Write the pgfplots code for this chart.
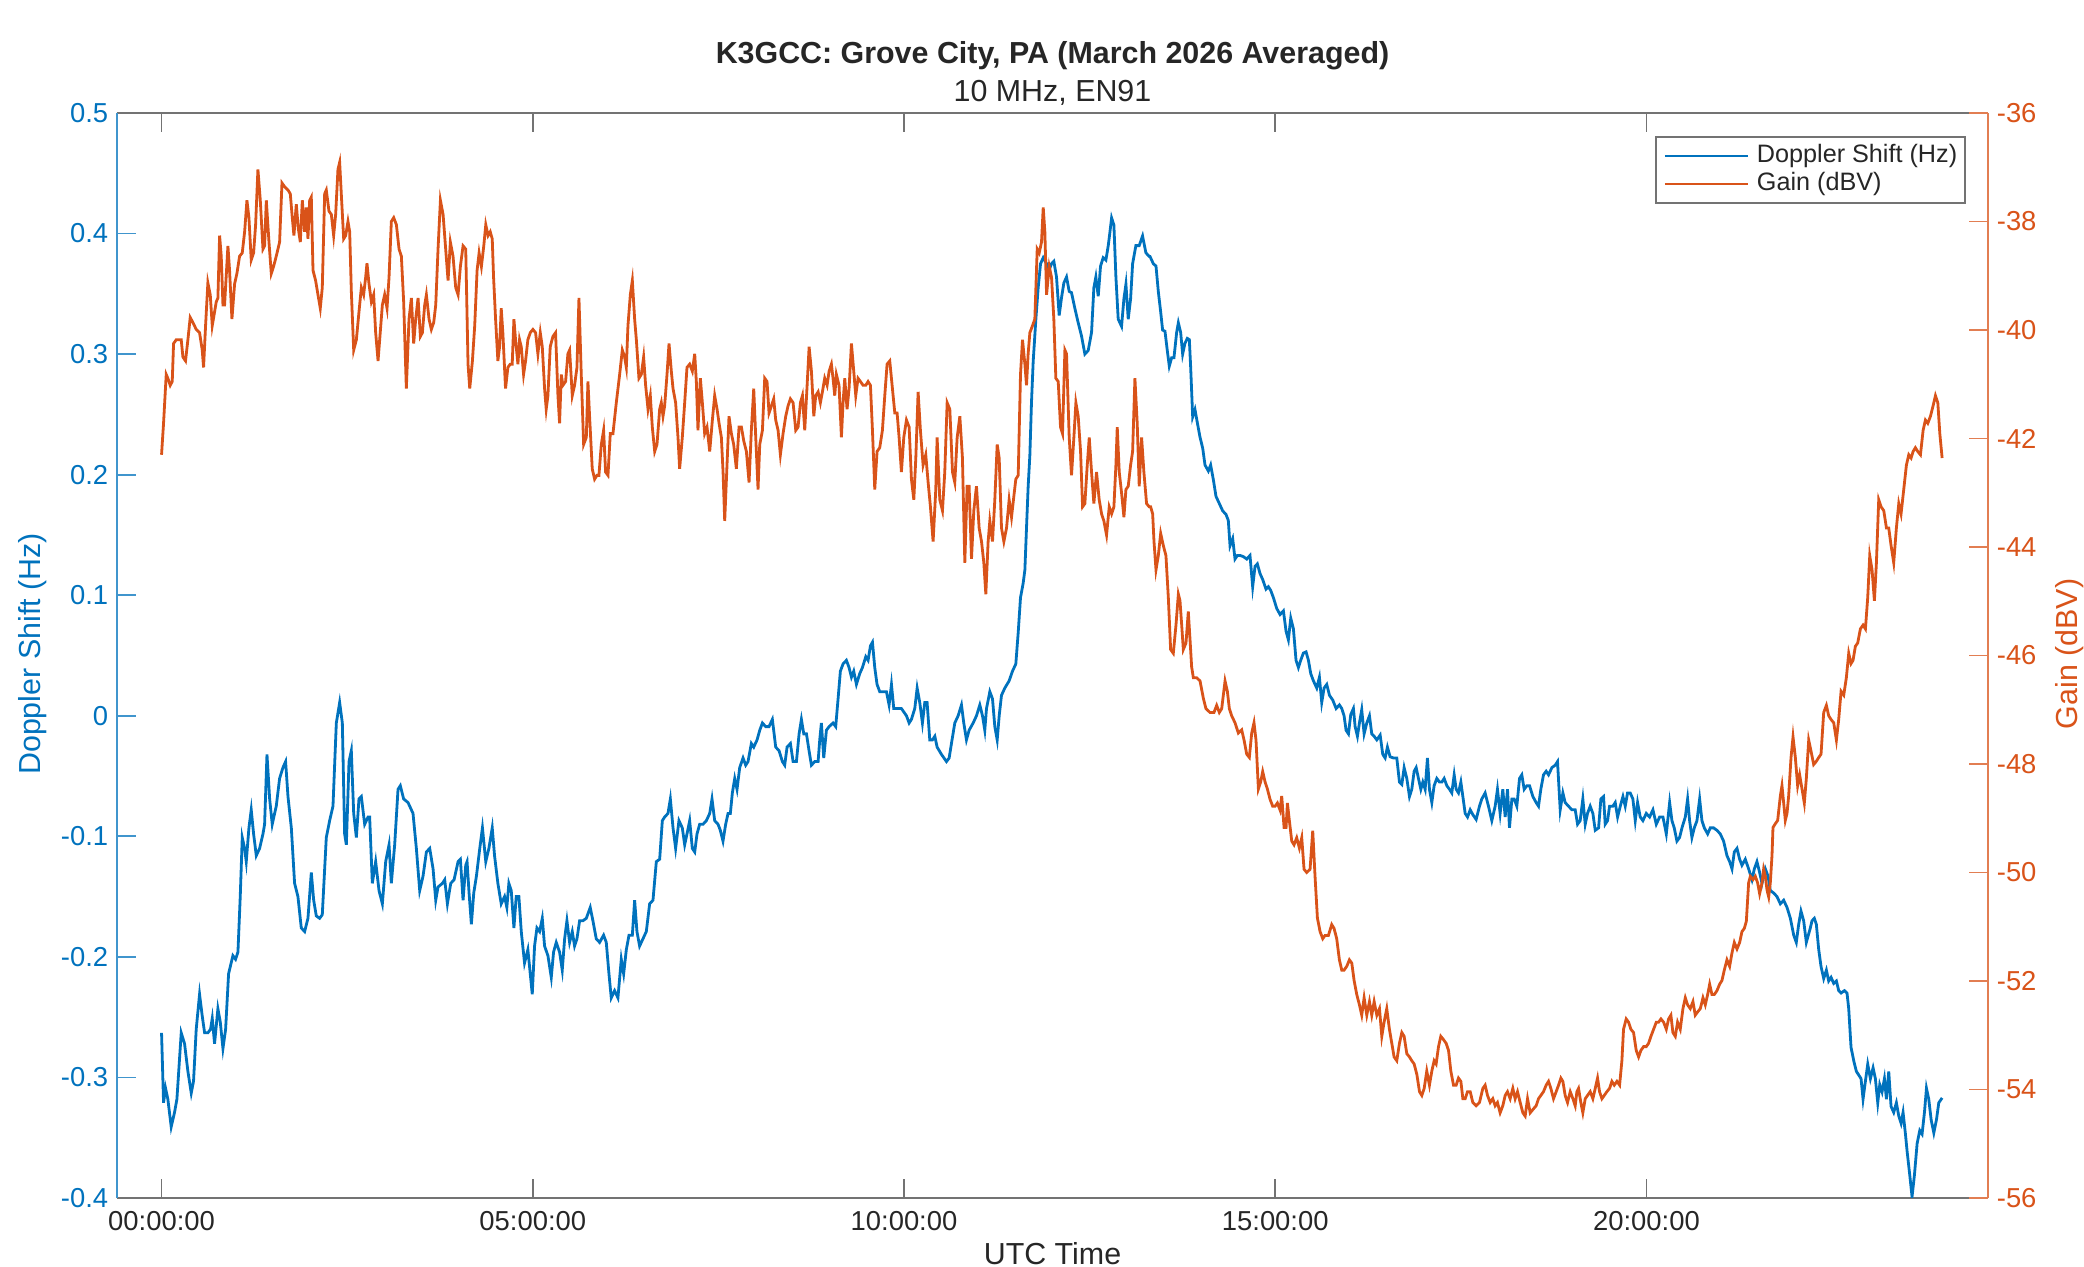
\documentclass[border=0pt]{standalone}
\usepackage{fontspec}
\setmainfont{Liberation Sans}
\usepackage{pgfplots}
\usepackage{pgfplotstable}
\pgfplotsset{compat=1.18}
\definecolor{dopcol}{rgb}{0,0.447,0.741}
\definecolor{gaincol}{rgb}{0.85,0.325,0.098}
\definecolor{axgray}{rgb}{0.45,0.45,0.45}
\definecolor{txtgray}{rgb}{0.15,0.15,0.15}
\newcommand\tickfont{\fontsize{13.7}{16}\selectfont}
\newcommand\labfont{\fontsize{15.2}{18}\selectfont}

\pgfplotstableread{
h d
0.000 -0.263
0.027 -0.321
0.054 -0.309
0.085 -0.318
0.130 -0.341
0.175 -0.329
0.207 -0.318
0.265 -0.263
0.310 -0.272
0.355 -0.295
0.400 -0.313
0.431 -0.303
0.467 -0.260
0.512 -0.231
0.548 -0.249
0.580 -0.263
0.624 -0.263
0.660 -0.260
0.683 -0.251
0.714 -0.272
0.759 -0.243
0.791 -0.254
0.827 -0.276
0.863 -0.260
0.903 -0.214
0.961 -0.199
0.997 -0.202
1.029 -0.196
1.060 -0.150
1.087 -0.101
1.119 -0.110
1.141 -0.121
1.177 -0.093
1.208 -0.078
1.240 -0.098
1.276 -0.116
1.321 -0.110
1.366 -0.098
1.388 -0.090
1.420 -0.032
1.456 -0.069
1.491 -0.090
1.523 -0.081
1.545 -0.075
1.590 -0.052
1.635 -0.043
1.671 -0.038
1.703 -0.067
1.748 -0.093
1.792 -0.139
1.837 -0.150
1.882 -0.176
1.927 -0.179
1.972 -0.168
2.017 -0.130
2.049 -0.153
2.084 -0.166
2.129 -0.168
2.165 -0.165
2.219 -0.101
2.264 -0.087
2.309 -0.075
2.354 -0.006
2.399 0.011
2.435 -0.006
2.466 -0.098
2.489 -0.107
2.525 -0.038
2.556 -0.029
2.588 -0.081
2.624 -0.101
2.659 -0.069
2.691 -0.067
2.736 -0.090
2.781 -0.084
2.803 -0.084
2.839 -0.139
2.884 -0.121
2.929 -0.145
2.974 -0.156
3.019 -0.121
3.064 -0.107
3.095 -0.139
3.140 -0.107
3.185 -0.061
3.216 -0.058
3.261 -0.069
3.320 -0.072
3.387 -0.081
3.432 -0.110
3.477 -0.145
3.522 -0.133
3.567 -0.113
3.612 -0.110
3.657 -0.127
3.693 -0.153
3.724 -0.142
3.783 -0.139
3.814 -0.136
3.850 -0.156
3.895 -0.139
3.940 -0.136
3.994 -0.121
4.025 -0.119
4.061 -0.153
4.097 -0.124
4.115 -0.121
4.142 -0.147
4.173 -0.173
4.205 -0.147
4.241 -0.133
4.286 -0.110
4.322 -0.093
4.367 -0.121
4.409 -0.110
4.454 -0.093
4.485 -0.116
4.530 -0.139
4.575 -0.156
4.620 -0.150
4.651 -0.159
4.678 -0.139
4.710 -0.145
4.746 -0.176
4.777 -0.150
4.813 -0.150
4.845 -0.179
4.889 -0.205
4.934 -0.194
4.966 -0.214
4.993 -0.231
5.024 -0.191
5.056 -0.176
5.092 -0.179
5.128 -0.168
5.159 -0.191
5.204 -0.199
5.249 -0.217
5.280 -0.196
5.316 -0.188
5.361 -0.196
5.397 -0.211
5.429 -0.185
5.460 -0.170
5.496 -0.188
5.532 -0.179
5.563 -0.191
5.595 -0.185
5.631 -0.170
5.676 -0.170
5.721 -0.168
5.774 -0.159
5.810 -0.170
5.855 -0.185
5.900 -0.188
5.954 -0.182
5.990 -0.188
6.026 -0.214
6.057 -0.234
6.102 -0.228
6.147 -0.234
6.192 -0.202
6.224 -0.214
6.260 -0.194
6.296 -0.182
6.341 -0.182
6.372 -0.153
6.403 -0.179
6.439 -0.191
6.484 -0.185
6.529 -0.179
6.574 -0.156
6.619 -0.153
6.664 -0.121
6.709 -0.119
6.745 -0.087
6.776 -0.084
6.821 -0.081
6.853 -0.069
6.889 -0.093
6.924 -0.110
6.969 -0.087
7.014 -0.093
7.046 -0.107
7.077 -0.098
7.113 -0.087
7.149 -0.110
7.181 -0.113
7.212 -0.098
7.248 -0.090
7.293 -0.090
7.338 -0.087
7.383 -0.081
7.414 -0.069
7.450 -0.087
7.495 -0.090
7.526 -0.095
7.562 -0.104
7.598 -0.090
7.630 -0.081
7.661 -0.081
7.688 -0.064
7.720 -0.052
7.751 -0.061
7.787 -0.043
7.832 -0.035
7.868 -0.041
7.899 -0.038
7.944 -0.023
7.976 -0.026
8.021 -0.020
8.057 -0.012
8.093 -0.006
8.137 -0.009
8.182 -0.009
8.227 -0.003
8.272 -0.026
8.317 -0.029
8.362 -0.038
8.393 -0.041
8.425 -0.026
8.470 -0.023
8.506 -0.038
8.551 -0.038
8.587 -0.015
8.618 -0.003
8.650 -0.015
8.686 -0.015
8.721 -0.029
8.753 -0.041
8.798 -0.038
8.843 -0.038
8.865 -0.020
8.887 -0.006
8.919 -0.035
8.955 -0.012
8.991 -0.009
9.044 -0.006
9.080 -0.009
9.112 0.014
9.143 0.037
9.179 0.043
9.224 0.046
9.260 0.040
9.292 0.032
9.323 0.037
9.359 0.026
9.404 0.035
9.440 0.040
9.485 0.049
9.516 0.046
9.548 0.058
9.575 0.061
9.606 0.040
9.637 0.026
9.673 0.020
9.718 0.020
9.763 0.020
9.799 0.009
9.831 0.026
9.862 0.006
9.907 0.006
9.965 0.006
10.033 0.000
10.069 -0.006
10.100 -0.003
10.145 0.006
10.177 0.023
10.212 0.011
10.248 -0.006
10.280 0.011
10.311 0.011
10.347 -0.020
10.383 -0.020
10.415 -0.017
10.446 -0.026
10.504 -0.032
10.572 -0.038
10.608 -0.035
10.639 -0.023
10.684 -0.006
10.729 0.000
10.774 0.009
10.805 -0.006
10.841 -0.020
10.877 -0.012
10.931 -0.006
10.976 0.000
11.021 0.009
11.057 0.000
11.088 -0.012
11.111 0.006
11.156 0.020
11.192 0.014
11.223 -0.009
11.255 -0.020
11.282 0.000
11.313 0.017
11.358 0.023
11.416 0.029
11.461 0.037
11.506 0.043
11.538 0.069
11.569 0.098
11.605 0.110
11.628 0.121
11.650 0.156
11.672 0.190
11.695 0.216
11.717 0.260
11.740 0.294
11.776 0.329
11.807 0.355
11.839 0.375
11.875 0.380
11.920 0.375
11.956 0.370
11.987 0.375
12.018 0.377
12.054 0.364
12.090 0.332
12.122 0.347
12.153 0.359
12.189 0.364
12.225 0.352
12.256 0.351
12.301 0.338
12.346 0.326
12.391 0.315
12.436 0.300
12.481 0.303
12.526 0.318
12.557 0.355
12.584 0.364
12.616 0.348
12.647 0.373
12.683 0.380
12.719 0.378
12.751 0.390
12.773 0.401
12.796 0.413
12.827 0.407
12.854 0.364
12.885 0.329
12.930 0.323
12.962 0.346
12.989 0.358
13.020 0.329
13.052 0.346
13.079 0.375
13.123 0.390
13.168 0.390
13.213 0.398
13.258 0.384
13.303 0.381
13.313 0.381
13.358 0.375
13.394 0.373
13.425 0.352
13.457 0.335
13.483 0.320
13.515 0.319
13.546 0.303
13.573 0.290
13.605 0.297
13.636 0.297
13.672 0.318
13.695 0.326
13.726 0.318
13.753 0.300
13.784 0.309
13.816 0.313
13.843 0.312
13.861 0.289
13.888 0.248
13.919 0.254
13.951 0.243
13.987 0.231
14.023 0.222
14.054 0.208
14.099 0.203
14.130 0.208
14.166 0.196
14.202 0.182
14.247 0.176
14.292 0.170
14.337 0.167
14.368 0.162
14.391 0.141
14.427 0.147
14.458 0.130
14.490 0.133
14.526 0.133
14.571 0.132
14.616 0.130
14.660 0.133
14.696 0.107
14.728 0.124
14.759 0.126
14.795 0.118
14.831 0.113
14.876 0.105
14.908 0.107
14.939 0.104
14.975 0.098
15.020 0.089
15.065 0.084
15.110 0.087
15.146 0.070
15.177 0.063
15.209 0.081
15.245 0.072
15.280 0.046
15.312 0.040
15.343 0.046
15.379 0.052
15.415 0.053
15.447 0.046
15.478 0.035
15.514 0.029
15.559 0.023
15.595 0.032
15.626 0.011
15.658 0.023
15.694 0.026
15.730 0.017
15.775 0.013
15.820 0.006
15.864 0.009
15.896 0.006
15.927 0.000
15.954 -0.012
15.986 -0.015
16.017 0.001
16.053 0.006
16.076 -0.009
16.107 -0.017
16.134 -0.006
16.165 0.005
16.197 -0.015
16.233 -0.006
16.269 0.000
16.300 -0.015
16.332 -0.017
16.368 -0.020
16.413 -0.016
16.448 -0.032
16.480 -0.035
16.511 -0.026
16.547 -0.034
16.592 -0.035
16.637 -0.035
16.673 -0.055
16.705 -0.057
16.736 -0.043
16.772 -0.052
16.808 -0.067
16.839 -0.061
16.871 -0.046
16.898 -0.043
16.929 -0.052
16.961 -0.061
16.988 -0.055
17.019 -0.061
17.050 -0.035
17.077 -0.061
17.109 -0.072
17.140 -0.058
17.176 -0.052
17.212 -0.055
17.244 -0.055
17.275 -0.052
17.311 -0.058
17.347 -0.061
17.378 -0.064
17.410 -0.049
17.437 -0.061
17.468 -0.064
17.500 -0.055
17.527 -0.067
17.558 -0.081
17.590 -0.084
17.626 -0.078
17.661 -0.082
17.706 -0.086
17.751 -0.075
17.782 -0.069
17.827 -0.064
17.872 -0.075
17.917 -0.087
17.962 -0.075
17.993 -0.061
18.029 -0.081
18.065 -0.061
18.097 -0.084
18.128 -0.061
18.155 -0.093
18.187 -0.069
18.218 -0.069
18.254 -0.075
18.290 -0.052
18.321 -0.049
18.353 -0.061
18.389 -0.058
18.425 -0.058
18.470 -0.067
18.514 -0.072
18.546 -0.075
18.577 -0.061
18.613 -0.049
18.649 -0.046
18.681 -0.049
18.726 -0.043
18.771 -0.041
18.802 -0.038
18.838 -0.078
18.874 -0.064
18.905 -0.072
18.950 -0.075
18.995 -0.078
19.040 -0.078
19.072 -0.090
19.107 -0.087
19.143 -0.069
19.175 -0.090
19.206 -0.081
19.242 -0.075
19.278 -0.081
19.310 -0.095
19.355 -0.093
19.386 -0.069
19.422 -0.067
19.444 -0.090
19.476 -0.087
19.503 -0.075
19.548 -0.075
19.579 -0.072
19.611 -0.084
19.647 -0.075
19.683 -0.067
19.714 -0.075
19.745 -0.064
19.781 -0.064
19.817 -0.069
19.849 -0.087
19.880 -0.072
19.916 -0.084
19.952 -0.087
19.997 -0.081
20.042 -0.084
20.087 -0.078
20.132 -0.090
20.177 -0.084
20.222 -0.084
20.267 -0.098
20.312 -0.072
20.343 -0.087
20.374 -0.093
20.410 -0.104
20.446 -0.101
20.478 -0.093
20.523 -0.084
20.554 -0.069
20.581 -0.087
20.612 -0.101
20.644 -0.093
20.680 -0.087
20.716 -0.069
20.747 -0.087
20.779 -0.093
20.824 -0.098
20.859 -0.093
20.904 -0.093
20.949 -0.095
20.994 -0.098
21.039 -0.104
21.084 -0.116
21.120 -0.121
21.152 -0.127
21.183 -0.113
21.219 -0.110
21.255 -0.119
21.286 -0.124
21.331 -0.119
21.376 -0.127
21.421 -0.136
21.453 -0.127
21.488 -0.121
21.524 -0.130
21.556 -0.139
21.601 -0.127
21.637 -0.133
21.668 -0.145
21.713 -0.147
21.758 -0.150
21.803 -0.156
21.848 -0.153
21.893 -0.159
21.938 -0.168
21.983 -0.182
22.018 -0.188
22.050 -0.173
22.081 -0.162
22.117 -0.170
22.153 -0.188
22.207 -0.176
22.230 -0.170
22.261 -0.168
22.288 -0.173
22.320 -0.194
22.351 -0.208
22.387 -0.218
22.423 -0.211
22.454 -0.220
22.486 -0.217
22.522 -0.222
22.558 -0.220
22.589 -0.228
22.621 -0.230
22.666 -0.228
22.701 -0.230
22.724 -0.243
22.755 -0.275
22.791 -0.286
22.827 -0.295
22.859 -0.298
22.890 -0.301
22.917 -0.318
22.949 -0.303
22.980 -0.289
23.016 -0.301
23.052 -0.292
23.083 -0.301
23.115 -0.321
23.142 -0.306
23.173 -0.312
23.205 -0.301
23.232 -0.318
23.263 -0.295
23.294 -0.324
23.330 -0.329
23.366 -0.321
23.398 -0.332
23.429 -0.338
23.456 -0.329
23.488 -0.347
23.510 -0.361
23.546 -0.381
23.577 -0.399
23.609 -0.381
23.645 -0.355
23.681 -0.344
23.712 -0.347
23.744 -0.329
23.771 -0.309
23.802 -0.318
23.834 -0.335
23.870 -0.346
23.906 -0.335
23.937 -0.321
23.982 -0.317
}\doppler

\pgfplotstableread{
h g
0.000 -42.30
0.027 -41.72
0.063 -40.82
0.085 -40.89
0.117 -41.02
0.144 -40.95
0.162 -40.25
0.198 -40.18
0.243 -40.18
0.265 -40.18
0.288 -40.50
0.323 -40.57
0.355 -40.18
0.386 -39.77
0.422 -39.86
0.467 -39.99
0.512 -40.05
0.548 -40.37
0.566 -40.69
0.593 -39.92
0.624 -39.13
0.656 -39.35
0.683 -39.92
0.714 -39.67
0.737 -39.48
0.759 -39.41
0.782 -38.26
0.804 -38.64
0.827 -39.54
0.849 -39.54
0.894 -38.45
0.916 -38.90
0.948 -39.80
0.984 -39.15
1.015 -38.96
1.051 -38.64
1.087 -38.58
1.119 -38.19
1.150 -37.61
1.177 -37.93
1.208 -38.71
1.240 -38.58
1.267 -38.06
1.298 -37.04
1.330 -37.61
1.366 -38.51
1.388 -38.45
1.411 -37.61
1.447 -38.38
1.478 -38.96
1.509 -38.83
1.545 -38.64
1.590 -38.38
1.622 -37.29
1.658 -37.36
1.703 -37.42
1.734 -37.49
1.761 -37.93
1.783 -38.26
1.815 -37.68
1.842 -38.13
1.869 -38.38
1.896 -37.61
1.927 -38.19
1.950 -37.74
1.972 -38.32
1.995 -37.61
2.017 -37.55
2.040 -38.90
2.075 -39.09
2.107 -39.35
2.138 -39.60
2.165 -39.22
2.197 -37.49
2.219 -37.42
2.255 -37.81
2.287 -37.87
2.318 -38.26
2.345 -37.87
2.376 -37.04
2.399 -36.91
2.421 -37.49
2.453 -38.32
2.480 -38.26
2.511 -38.00
2.534 -38.19
2.556 -39.28
2.588 -40.37
2.624 -40.18
2.659 -39.67
2.691 -39.22
2.722 -39.35
2.749 -39.03
2.767 -38.77
2.794 -39.15
2.826 -39.48
2.857 -39.35
2.884 -40.05
2.916 -40.57
2.938 -40.18
2.974 -39.54
3.005 -39.35
3.037 -39.60
3.064 -39.03
3.095 -38.00
3.127 -37.93
3.163 -38.06
3.199 -38.51
3.230 -38.64
3.261 -39.48
3.297 -41.08
3.333 -39.80
3.365 -39.41
3.396 -40.25
3.423 -39.80
3.455 -39.41
3.486 -40.12
3.513 -40.05
3.544 -39.54
3.567 -39.35
3.603 -39.80
3.634 -39.99
3.666 -39.86
3.693 -39.54
3.724 -38.51
3.756 -37.61
3.792 -37.87
3.827 -38.51
3.859 -39.09
3.890 -38.38
3.926 -38.64
3.962 -39.22
3.994 -39.35
4.025 -38.83
4.061 -38.45
4.097 -38.51
4.128 -40.63
4.151 -41.08
4.187 -40.57
4.218 -39.92
4.250 -38.90
4.277 -38.58
4.308 -38.83
4.340 -38.45
4.367 -38.06
4.398 -38.26
4.427 -38.19
4.454 -38.32
4.472 -39.03
4.499 -39.80
4.530 -40.57
4.553 -40.31
4.575 -39.60
4.597 -40.05
4.633 -41.08
4.665 -40.69
4.696 -40.63
4.723 -40.63
4.746 -39.80
4.768 -40.18
4.800 -40.63
4.822 -40.18
4.845 -40.31
4.876 -40.82
4.903 -40.57
4.934 -40.18
4.966 -40.05
5.002 -39.99
5.038 -40.05
5.069 -40.44
5.101 -40.05
5.128 -40.31
5.159 -41.08
5.181 -41.46
5.204 -41.21
5.235 -40.31
5.271 -40.12
5.307 -40.05
5.339 -41.21
5.361 -41.72
5.384 -40.82
5.406 -41.02
5.442 -40.95
5.473 -40.44
5.496 -40.37
5.532 -41.21
5.563 -41.02
5.595 -40.69
5.622 -39.41
5.653 -40.82
5.685 -42.11
5.721 -41.98
5.743 -40.95
5.765 -41.59
5.801 -42.56
5.833 -42.75
5.864 -42.68
5.891 -42.68
5.923 -42.11
5.954 -41.85
5.981 -42.62
6.013 -42.68
6.044 -41.91
6.080 -41.91
6.125 -41.34
6.170 -40.82
6.206 -40.37
6.237 -40.50
6.260 -40.69
6.282 -39.92
6.314 -39.35
6.341 -39.09
6.372 -39.80
6.395 -40.18
6.430 -40.89
6.462 -40.82
6.493 -40.50
6.520 -41.02
6.552 -41.46
6.583 -41.21
6.610 -41.79
6.642 -42.24
6.673 -42.11
6.709 -41.46
6.731 -41.34
6.754 -41.59
6.776 -41.40
6.808 -40.82
6.835 -40.25
6.866 -40.76
6.889 -41.08
6.924 -41.34
6.956 -41.98
6.978 -42.56
7.014 -41.98
7.046 -41.34
7.077 -40.69
7.113 -40.63
7.149 -40.76
7.181 -40.44
7.203 -40.95
7.225 -41.85
7.257 -40.89
7.284 -41.34
7.315 -41.91
7.347 -41.79
7.383 -42.24
7.419 -41.66
7.450 -41.21
7.482 -41.46
7.509 -41.72
7.540 -41.98
7.563 -42.62
7.585 -43.52
7.616 -42.49
7.643 -41.59
7.675 -41.91
7.706 -42.11
7.742 -42.56
7.778 -41.79
7.810 -41.79
7.841 -42.04
7.877 -42.24
7.913 -42.81
7.944 -41.85
7.976 -41.08
8.003 -41.98
8.034 -42.94
8.057 -42.11
8.093 -41.85
8.124 -40.89
8.155 -40.95
8.182 -41.53
8.214 -41.40
8.245 -41.27
8.272 -41.66
8.304 -41.85
8.335 -42.30
8.371 -41.91
8.407 -41.59
8.438 -41.40
8.470 -41.27
8.506 -41.34
8.542 -41.85
8.573 -41.79
8.605 -41.34
8.632 -41.21
8.663 -41.85
8.695 -41.02
8.722 -40.31
8.753 -40.76
8.785 -41.59
8.811 -41.21
8.843 -41.14
8.874 -41.34
8.901 -41.14
8.932 -40.89
8.964 -41.02
8.991 -40.76
9.022 -40.63
9.044 -40.89
9.067 -41.21
9.089 -40.82
9.125 -41.02
9.157 -41.98
9.179 -41.34
9.202 -40.89
9.233 -41.46
9.260 -41.08
9.292 -40.25
9.323 -40.76
9.350 -41.21
9.381 -40.89
9.413 -40.95
9.449 -41.02
9.485 -41.02
9.516 -40.95
9.548 -41.02
9.575 -41.85
9.606 -42.94
9.637 -42.24
9.673 -42.17
9.709 -41.85
9.741 -41.21
9.772 -40.63
9.808 -40.57
9.844 -41.08
9.876 -41.53
9.907 -41.53
9.934 -41.98
9.965 -42.62
9.997 -41.98
10.033 -41.66
10.069 -41.79
10.100 -42.75
10.132 -43.13
10.159 -42.36
10.190 -41.14
10.221 -41.85
10.257 -42.49
10.293 -42.30
10.325 -42.81
10.356 -43.26
10.392 -43.90
10.428 -42.94
10.446 -41.98
10.482 -43.13
10.518 -43.33
10.549 -42.62
10.581 -41.34
10.617 -41.46
10.653 -42.62
10.684 -42.81
10.716 -41.98
10.752 -41.59
10.787 -42.36
10.819 -44.29
10.850 -42.88
10.877 -42.88
10.909 -44.22
10.940 -43.33
10.976 -42.88
11.012 -43.65
11.044 -43.90
11.075 -44.29
11.102 -44.87
11.133 -43.90
11.156 -43.52
11.192 -43.90
11.223 -43.13
11.255 -42.11
11.282 -42.36
11.313 -43.65
11.345 -43.90
11.381 -43.65
11.416 -43.13
11.448 -43.45
11.479 -43.07
11.506 -42.75
11.538 -42.68
11.569 -40.82
11.596 -40.18
11.628 -40.63
11.650 -41.02
11.672 -40.44
11.695 -40.05
11.731 -39.92
11.762 -39.80
11.794 -38.51
11.821 -38.58
11.852 -38.38
11.875 -37.74
11.897 -38.19
11.920 -39.35
11.956 -38.83
11.987 -39.03
12.018 -39.80
12.045 -40.89
12.077 -40.95
12.108 -41.79
12.135 -41.91
12.167 -40.37
12.189 -40.44
12.225 -41.98
12.256 -42.68
12.288 -41.98
12.315 -41.34
12.346 -41.59
12.378 -42.24
12.405 -43.26
12.436 -43.20
12.468 -42.49
12.495 -41.98
12.526 -42.62
12.557 -43.20
12.593 -42.62
12.629 -43.13
12.661 -43.39
12.692 -43.52
12.728 -43.78
12.764 -43.26
12.796 -43.39
12.827 -43.26
12.854 -42.49
12.872 -41.79
12.899 -42.62
12.930 -43.00
12.962 -43.45
12.989 -42.94
13.020 -42.88
13.052 -42.49
13.079 -42.24
13.110 -40.89
13.141 -41.72
13.168 -42.88
13.200 -41.98
13.231 -42.62
13.267 -43.20
13.303 -43.26
13.322 -43.26
13.349 -43.39
13.367 -43.90
13.394 -44.42
13.425 -44.16
13.457 -43.75
13.492 -43.97
13.528 -44.16
13.560 -44.93
13.591 -45.89
13.627 -45.96
13.663 -45.44
13.695 -44.87
13.717 -44.99
13.740 -45.44
13.762 -45.89
13.798 -45.77
13.829 -45.19
13.852 -45.70
13.874 -46.21
13.897 -46.41
13.942 -46.41
13.987 -46.47
14.032 -46.79
14.067 -46.98
14.121 -47.05
14.175 -47.05
14.211 -46.92
14.247 -47.05
14.279 -46.98
14.301 -46.73
14.324 -46.47
14.355 -46.66
14.382 -46.98
14.413 -47.11
14.458 -47.24
14.503 -47.43
14.548 -47.37
14.580 -47.56
14.616 -47.82
14.651 -47.88
14.683 -47.43
14.714 -47.24
14.741 -47.56
14.773 -48.46
14.804 -48.33
14.831 -48.14
14.863 -48.33
14.894 -48.46
14.930 -48.65
14.966 -48.78
14.997 -48.78
15.029 -48.72
15.065 -48.85
15.087 -48.59
15.119 -49.17
15.146 -49.17
15.164 -48.72
15.190 -49.04
15.222 -49.42
15.253 -49.49
15.289 -49.36
15.325 -49.55
15.357 -49.36
15.388 -49.94
15.424 -50.00
15.469 -49.94
15.505 -49.23
15.536 -50.07
15.568 -50.84
15.604 -51.09
15.640 -51.22
15.671 -51.16
15.716 -51.16
15.761 -50.96
15.792 -51.03
15.828 -51.22
15.864 -51.61
15.896 -51.80
15.927 -51.80
15.963 -51.73
15.999 -51.61
16.031 -51.67
16.062 -51.99
16.098 -52.25
16.134 -52.44
16.165 -52.63
16.197 -52.31
16.233 -52.63
16.269 -52.38
16.300 -52.63
16.332 -52.38
16.368 -52.63
16.404 -52.51
16.435 -53.02
16.466 -52.76
16.502 -52.51
16.538 -52.89
16.570 -53.15
16.601 -53.40
16.637 -53.47
16.673 -53.15
16.705 -52.95
16.736 -53.02
16.772 -53.34
16.808 -53.40
16.839 -53.47
16.871 -53.53
16.907 -53.72
16.943 -54.04
16.974 -54.11
17.006 -53.98
17.041 -53.66
17.077 -53.92
17.109 -53.66
17.140 -53.47
17.167 -53.53
17.199 -53.21
17.230 -53.02
17.266 -53.08
17.302 -53.15
17.334 -53.28
17.365 -53.66
17.401 -53.92
17.437 -53.92
17.468 -53.79
17.500 -53.85
17.527 -54.17
17.558 -54.17
17.590 -54.04
17.626 -54.04
17.661 -54.24
17.706 -54.30
17.751 -54.24
17.796 -53.98
17.827 -53.92
17.859 -54.11
17.895 -54.24
17.930 -54.17
17.962 -54.30
17.993 -54.24
18.029 -54.43
18.065 -54.30
18.097 -54.11
18.128 -54.04
18.164 -54.17
18.200 -53.98
18.231 -54.17
18.263 -54.04
18.299 -54.24
18.335 -54.43
18.366 -54.49
18.398 -54.17
18.434 -54.43
18.470 -54.37
18.514 -54.30
18.546 -54.17
18.577 -54.11
18.613 -54.04
18.649 -53.92
18.681 -53.85
18.712 -53.98
18.748 -54.17
18.784 -54.04
18.816 -53.92
18.847 -53.79
18.874 -53.85
18.905 -54.11
18.937 -54.24
18.973 -54.04
19.009 -54.17
19.040 -54.30
19.063 -54.04
19.085 -53.98
19.116 -54.24
19.143 -54.43
19.175 -54.17
19.206 -54.11
19.242 -54.04
19.278 -54.17
19.310 -53.98
19.341 -53.79
19.368 -54.04
19.400 -54.17
19.431 -54.11
19.467 -54.04
19.503 -53.98
19.534 -53.85
19.566 -53.92
19.602 -53.85
19.638 -53.92
19.669 -53.47
19.691 -52.89
19.727 -52.70
19.759 -52.76
19.790 -52.89
19.826 -52.95
19.862 -53.28
19.894 -53.40
19.925 -53.28
19.961 -53.21
19.997 -53.21
20.028 -53.15
20.060 -53.02
20.096 -52.89
20.132 -52.76
20.163 -52.76
20.195 -52.70
20.231 -52.76
20.267 -52.89
20.298 -52.70
20.329 -52.63
20.356 -52.95
20.388 -53.02
20.419 -52.76
20.455 -52.89
20.491 -52.51
20.523 -52.31
20.554 -52.44
20.590 -52.51
20.626 -52.38
20.657 -52.63
20.689 -52.57
20.725 -52.51
20.761 -52.31
20.792 -52.44
20.824 -52.25
20.851 -52.06
20.882 -52.25
20.913 -52.25
20.949 -52.18
20.985 -52.06
21.017 -51.99
21.048 -51.80
21.084 -51.61
21.120 -51.73
21.152 -51.48
21.183 -51.29
21.219 -51.41
21.255 -51.29
21.286 -51.09
21.318 -51.03
21.345 -50.90
21.376 -50.19
21.399 -50.07
21.435 -50.13
21.466 -50.07
21.497 -50.19
21.524 -50.39
21.556 -50.19
21.578 -49.94
21.601 -50.07
21.623 -50.32
21.646 -50.45
21.668 -50.19
21.691 -49.68
21.704 -49.17
21.736 -49.10
21.767 -49.04
21.803 -48.59
21.825 -48.40
21.848 -48.72
21.870 -49.04
21.893 -48.91
21.915 -48.59
21.947 -47.88
21.974 -47.50
22.005 -47.88
22.036 -48.40
22.063 -48.20
22.095 -48.46
22.126 -48.72
22.153 -48.27
22.185 -47.56
22.216 -47.76
22.252 -48.01
22.288 -47.95
22.320 -47.88
22.351 -47.82
22.387 -47.05
22.423 -46.92
22.454 -47.11
22.486 -47.18
22.522 -47.24
22.558 -47.56
22.589 -47.18
22.621 -46.66
22.657 -46.73
22.692 -46.41
22.724 -45.96
22.755 -46.15
22.782 -46.09
22.814 -45.83
22.845 -45.77
22.881 -45.51
22.917 -45.44
22.949 -45.51
22.980 -44.93
23.007 -44.16
23.038 -44.42
23.070 -44.99
23.097 -44.29
23.128 -43.13
23.160 -43.26
23.196 -43.33
23.232 -43.65
23.263 -43.65
23.294 -43.97
23.330 -44.29
23.366 -43.65
23.398 -43.20
23.429 -43.39
23.465 -42.94
23.501 -42.49
23.533 -42.30
23.564 -42.36
23.591 -42.24
23.622 -42.17
23.654 -42.24
23.690 -42.30
23.726 -41.85
23.757 -41.66
23.789 -41.72
23.825 -41.59
23.860 -41.40
23.892 -41.21
23.924 -41.34
23.951 -41.91
23.982 -42.36
}\gain

\begin{document}
\begin{tikzpicture}
\path[use as bounding box] (-58.5pt,-34.5pt) rectangle (983.5pt,599pt);
\begin{axis}[
  at={(0,0)}, anchor=south west, scale only axis,
  width=935.5pt, height=542.5pt,
  xmin=-0.6, xmax=24.6, ymin=-0.4, ymax=0.5,
  axis lines=box, separate axis lines,
  x axis line style={draw=axgray, line width=0.9pt},
  y axis line style={draw=dopcol!75, line width=0.9pt},
  tick align=inside, major tick length=9.3pt,
  xtick={0,5,10,15,20},
  xticklabels={00:00:00,05:00:00,10:00:00,15:00:00,20:00:00},
  xtick pos=both, ytick pos=left,
  ytick={-0.4,-0.3,-0.2,-0.1,0,0.1,0.2,0.3,0.4,0.5},
  yticklabels={-0.4,-0.3,-0.2,-0.1,0,0.1,0.2,0.3,0.4,0.5},
  xtick style={draw=axgray, line width=0.9pt},
  ytick style={draw=dopcol!75, line width=0.9pt},
  xticklabel style={font=\tickfont, text=txtgray, yshift=-3.4pt},
  yticklabel style={font=\tickfont, text=dopcol, xshift=-0.9pt},
]
\addplot[dopcol, line width=1.4pt] table[x=h, y=d] {\doppler};
\end{axis}
\begin{axis}[
  at={(0,0)}, anchor=south west, scale only axis,
  width=935.5pt, height=542.5pt,
  xmin=-0.6, xmax=24.6, ymin=-56, ymax=-36,
  axis x line=none, axis y line*=right,
  y axis line style={draw=gaincol!75, line width=0.9pt},
  tick align=inside, major tick length=9.3pt,
  ytick={-56,-54,-52,-50,-48,-46,-44,-42,-40,-38,-36},
  yticklabels={-56,-54,-52,-50,-48,-46,-44,-42,-40,-38,-36},
  ytick style={draw=gaincol!75, line width=0.9pt},
  yticklabel style={font=\tickfont, text=gaincol, xshift=0.9pt},
  legend cell align=left,
  legend image code/.code={\draw[#1, line width=1pt] (0pt,0pt) -- (41.5pt,0pt);},
  legend style={at={(1,1)}, anchor=north east, xshift=-11pt, yshift=-11.5pt,
    draw=axgray, line width=0.8pt, fill=white, text=txtgray,
    font=\fontsize{12.6}{14}\selectfont,
    inner xsep=4pt, inner ysep=2.5pt, row sep=0pt, column sep=4pt,
    nodes={inner xsep=0pt, inner ysep=1pt, text height=9.3pt, text depth=2.7pt}},
]
\addlegendimage{dopcol, line width=1.4pt}
\addlegendentry{Doppler Shift (Hz)}
\addplot[gaincol, line width=1.4pt] table[x=h, y=g] {\gain};
\addlegendentry{Gain (dBV)}
\end{axis}
\node[anchor=base, font=\labfont\bfseries, text=txtgray] at (467.75pt,567pt) {K3GCC: Grove City, PA (March 2026 Averaged)};
\node[anchor=base, font=\labfont, text=txtgray] at (467.75pt,548pt) {10 MHz, EN91};
\node[anchor=north, inner sep=0pt, font=\labfont, text=txtgray] at (467.75pt,-21.8pt) {UTC Time};
\node[rotate=90, anchor=base, font=\labfont, text=dopcol] at (-38.3pt,272pt) {Doppler Shift (Hz)};
\node[rotate=90, anchor=base, font=\labfont, text=gaincol] at (980pt,272pt) {Gain (dBV)};
\end{tikzpicture}
\end{document}
